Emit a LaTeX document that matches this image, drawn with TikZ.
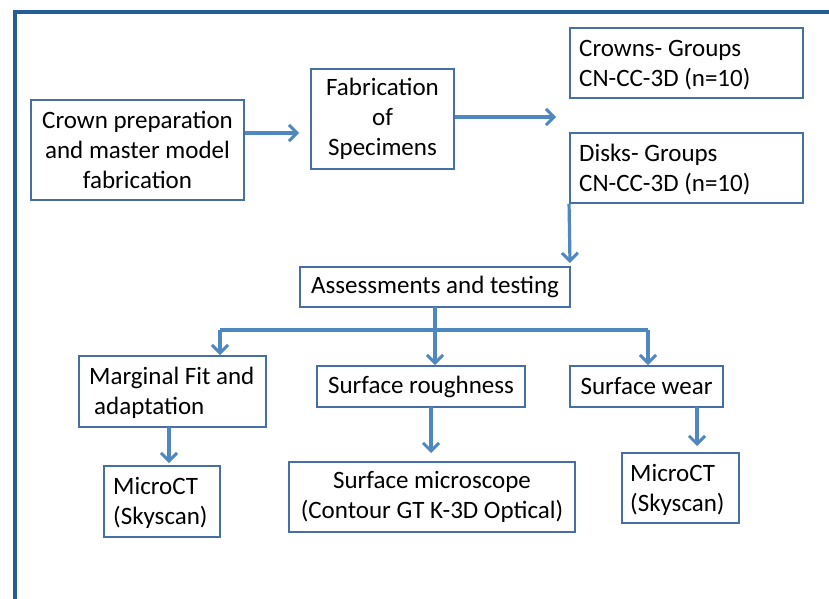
\documentclass[tikz,border=0pt]{standalone}
\usepackage{fontspec}
\setmainfont{Carlito}
\usetikzlibrary{arrows.meta,calc}
\definecolor{boxline}{RGB}{70,112,165}
\definecolor{arrowc}{RGB}{79,135,192}
\definecolor{framec}{RGB}{35,95,150}
\begin{document}
\begin{tikzpicture}[x=1pt,y=1pt,
  txt/.style={font=\fontsize{25}{30}\selectfont},
  box/.style={draw=boxline,line width=1.9pt,rectangle,inner sep=4pt,txt},
  lbl/.style={anchor=west,align=left,inner sep=0pt,txt},
  conn/.style={draw=arrowc,line width=3.2pt,-{Straight Barb[length=8pt,width=16pt,line width=3pt]}},
  plain/.style={draw=arrowc,line width=3.2pt}]
\useasboundingbox (0,0) rectangle (829,-599);
\fill[white] (0,0) rectangle (829,-599);
\draw[framec,line width=3.4pt] (15,-599) -- (15,-12) -- (829,-12);

\node[box,minimum width=213pt,minimum height=100pt,align=center] (prep) at (137.5,-150) {Crown preparation\\and master model\\fabrication};
\node[box,minimum width=143pt,minimum height=100pt,align=center] (fab) at (382.5,-119) {Fabrication\\of\\Specimens};
\node[box,minimum width=233pt,minimum height=70pt] (crowns) at (686.5,-63) {};
\node[lbl] (crownst) at (579,-65) {Crowns- Groups\\CN-CC-3D (n=10)};
\node[box,minimum width=233pt,minimum height=70pt] (disks) at (686.5,-168) {};
\node[lbl] (diskst) at (579,-170) {Disks- Groups\\CN-CC-3D (n=10)};
\node[box,minimum width=270pt,minimum height=40pt] (assess) at (435,-287) {Assessments and testing};
\node[box,minimum width=187pt,minimum height=71pt] (marg) at (172.5,-391.5) {};
\node[lbl] (margt) at (89,-393) {Marginal Fit and\\\hspace{5pt}adaptation};
\node[box,minimum width=208pt,minimum height=41pt] (rough) at (421,-386.5) {Surface roughness};
\node[box,minimum width=153pt,minimum height=41pt] (wear) at (646.5,-386.5) {Surface wear};
\node[box,minimum width=116pt,minimum height=71pt] (ct1) at (162,-501.5) {};
\node[lbl] (ct1t) at (113,-503) {MicroCT\\(Skyscan)};
\node[box,minimum width=286pt,minimum height=70pt,align=center] (micro) at (432,-497) {Surface microscope\\(Contour GT K-3D Optical)};
\node[box,minimum width=117pt,minimum height=70pt] (ct2) at (680.5,-488) {};
\node[lbl] (ct2t) at (630,-490) {MicroCT\\(Skyscan)};

\coordinate (a1s) at (prep.east |- 0,-133);
\coordinate (a1e) at (299,-133);
\coordinate (a2s) at (fab.east |- 0,-117);
\coordinate (a2e) at (556,-117);
\coordinate (a3e) at (570,-263);
\coordinate (a4s) at (435,-307);
\coordinate (bl) at (220,-330);
\coordinate (br) at (648,-330);
\coordinate (a5s) at (169,-427);
\coordinate (a5e) at (169,-463);
\coordinate (a6s) at (431,-407);
\coordinate (a6e) at (431,-453);
\coordinate (a7s) at (697,-407);
\coordinate (a7e) at (697,-446);

\draw[conn] (a1s) -- (a1e);
\draw[conn] (a2s) -- (a2e);
\draw[conn] (disks.south west) -- (a3e);
\draw[plain] (bl) -- (br);
\draw[conn] (a4s) -- (a4s |- rough.north);
\draw[conn] (bl) -- (bl |- marg.north);
\draw[conn] (br) -- (br |- wear.north);
\draw[conn] (a5s) -- (a5e);
\draw[conn] (a6s) -- (a6e);
\draw[conn] (a7s) -- (a7e);
\end{tikzpicture}
\end{document}
